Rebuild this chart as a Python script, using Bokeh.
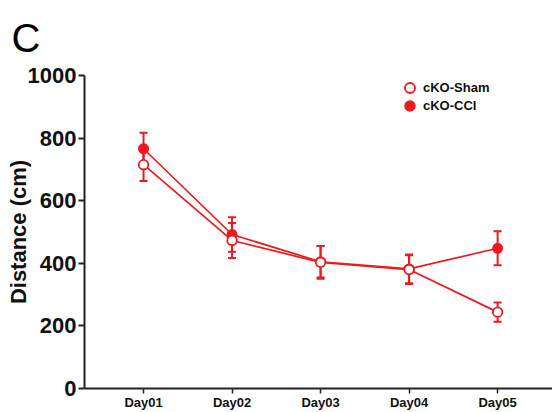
from bokeh.plotting import figure
from bokeh.models import (Range1d, FixedTicker, Whisker, TeeHead, ColumnDataSource,
                          Legend, LegendItem, Title)
from bokeh.embed import file_html
from bokeh.resources import INLINE

days = ["Day01", "Day02", "Day03", "Day04", "Day05"]
x_pos = [1, 2, 3, 4, 5]
sham_mean = [715, 473, 403, 380, 244]
sham_sem = [52, 56, 52, 46, 31]
cci_mean = [766, 492, 405, 382, 448]
cci_sem = [51, 55, 50, 46, 54]

RED = "#ec1a1f"
FONT = "Liberation Sans"

p = figure(width=552, height=412, output_backend="svg", toolbar_location=None,
           x_range=Range1d(0.333, 5.62), y_range=Range1d(0, 1000),
           min_border_left=84, min_border_right=0, min_border_top=75, min_border_bottom=24)
p.outline_line_color = None
p.xgrid.visible = False
p.ygrid.visible = False
p.background_fill_color = "white"
p.border_fill_color = "white"

p.title = Title(text="C", text_font=FONT, text_font_size="40px",
                text_font_style="normal", text_color="#000000",
                align="left", offset=-73, standoff=28, vertical_align="top")

sham = ColumnDataSource(dict(x=x_pos, y=sham_mean,
                             lo=[m - s for m, s in zip(sham_mean, sham_sem)],
                             hi=[m + s for m, s in zip(sham_mean, sham_sem)]))
cci = ColumnDataSource(dict(x=x_pos, y=cci_mean,
                            lo=[m - s for m, s in zip(cci_mean, cci_sem)],
                            hi=[m + s for m, s in zip(cci_mean, cci_sem)]))

for src in (sham, cci):
    w = Whisker(source=src, base="x", lower="lo", upper="hi", line_color=RED, line_width=2,
                upper_head=TeeHead(size=8, line_color=RED, line_width=2),
                lower_head=TeeHead(size=8, line_color=RED, line_width=2))
    p.add_layout(w)

p.line("x", "y", source=sham, line_color=RED, line_width=1.7)
p.line("x", "y", source=cci, line_color=RED, line_width=1.7)
r_cci = p.scatter("x", "y", source=cci, size=9.5, fill_color=RED, line_color=RED, line_width=1.5)
r_sham = p.scatter("x", "y", source=sham, size=9.5, fill_color="white", line_color=RED, line_width=1.8)

# axes
yax = p.yaxis[0]
yax.ticker = FixedTicker(ticks=[0, 200, 400, 600, 800, 1000])
yax.minor_tick_line_color = None
yax.major_tick_in = 0
yax.major_tick_out = 6
yax.major_label_standoff = 2
yax.major_label_text_font = FONT
yax.major_label_text_font_style = "bold"
yax.major_label_text_font_size = "22px"
yax.major_label_text_color = "#111111"
yax.axis_line_width = 2
yax.axis_line_color = "#222222"
yax.major_tick_line_width = 2
yax.major_tick_line_color = "#222222"
yax.axis_label = "Distance (cm)"
yax.axis_label_text_font = FONT
yax.axis_label_text_font_style = "bold"
yax.axis_label_text_font_size = "22px"
yax.axis_label_text_color = "#111111"
yax.axis_label_standoff = -6

xax = p.xaxis[0]
xax.ticker = FixedTicker(ticks=x_pos)
xax.major_label_overrides = {x: d for x, d in zip(x_pos, days)}
xax.minor_tick_line_color = None
xax.major_tick_in = 0
xax.major_tick_out = 5
xax.major_label_standoff = 1
xax.major_label_text_font = FONT
xax.major_label_text_font_style = "bold"
xax.major_label_text_font_size = "13px"
xax.major_label_text_color = "#111111"
xax.axis_line_width = 2
xax.axis_line_color = "#222222"
xax.major_tick_line_width = 1.5
xax.major_tick_line_color = "#222222"

legend_style = dict(orientation="vertical", glyph_width=25, glyph_height=25, label_height=25,
                    label_standoff=1, spacing=0, padding=0, margin=0,
                    border_line_color=None, background_fill_alpha=0,
                    label_text_font=FONT, label_text_font_style="bold",
                    label_text_font_size="13px", label_text_color="#111111")
leg1 = Legend(items=[LegendItem(label="cKO-Sham", renderers=[r_sham])],
              location=(313, 288), **legend_style)
leg2 = Legend(items=[LegendItem(label="cKO-CCI", renderers=[r_cci])],
              location=(313, 270), **legend_style)
p.add_layout(leg1)
p.add_layout(leg2)

open("out.html", "w").write(file_html(p, INLINE))
